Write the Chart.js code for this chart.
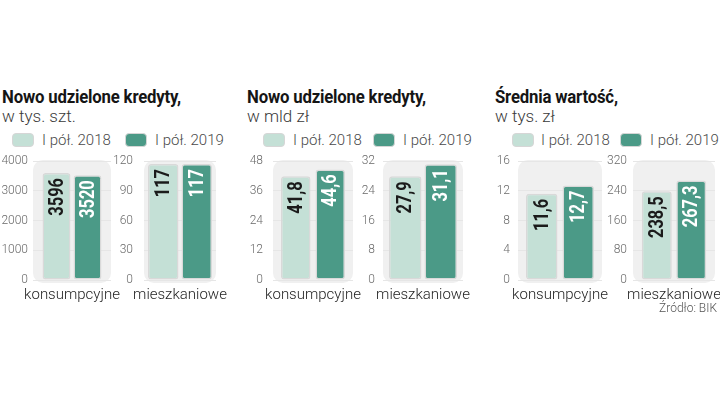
<!DOCTYPE html>
<html>
<head>
<meta charset="utf-8">
<script src="https://cdn.jsdelivr.net/npm/chart.js@4.4.1/dist/chart.umd.min.js"></script>
<style>
  body { margin: 0; background: #fff; }
  #wrap { position: relative; width: 720px; height: 406px; overflow: hidden; font-family: Roboto, "Open Sans", sans-serif; }
  .title { position: absolute; top: 86px; font-weight: 700; font-size: 18px; color: #151515; white-space: nowrap; transform: scaleX(0.93); transform-origin: left top; letter-spacing: -0.2px; }
  .sub { position: absolute; top: 106px; font-weight: 300; font-size: 17px; color: #3a3a3a; white-space: nowrap; }
  .leg { position: absolute; top: 131px; font-weight: 300; font-size: 15px; color: #4a4a4a; white-space: nowrap; line-height: 18px; }
  .box { position: absolute; top: 133px; width: 20px; height: 12px; border: 1.5px solid #d6d6d6; border-radius: 4px; }
  .light { background: #c4e0d6; }
  .dark { background: #4b9a87; }
  canvas { position: absolute; top: 150px; }
  #src { position: absolute; right: 3px; top: 301px; font-weight: 300; font-size: 12px; color: #555; }
</style>
</head>
<body>
<div id="wrap">
  <div class="title" style="left:2px">Nowo udzielone kredyty,</div>
  <div class="sub" style="left:2px">w tys. szt.</div>
  <div class="box light" style="left:12px"></div><div class="leg" style="left:42px">I pół. 2018</div>
  <div class="box dark" style="left:125px"></div><div class="leg" style="left:155px">I pół. 2019</div>

  <div class="title" style="left:247px">Nowo udzielone kredyty,</div>
  <div class="sub" style="left:247px">w mld zł</div>
  <div class="box light" style="left:263px"></div><div class="leg" style="left:293px">I pół. 2018</div>
  <div class="box dark" style="left:373px"></div><div class="leg" style="left:403px">I pół. 2019</div>

  <div class="title" style="left:495px">Średnia wartość,</div>
  <div class="sub" style="left:495px">w tys. zł</div>
  <div class="box light" style="left:512px"></div><div class="leg" style="left:541px">I pół. 2018</div>
  <div class="box dark" style="left:620px"></div><div class="leg" style="left:650px">I pół. 2019</div>

  <canvas id="c0"></canvas><canvas id="c1"></canvas><canvas id="c2"></canvas>
  <canvas id="c3"></canvas><canvas id="c4"></canvas><canvas id="c5"></canvas>
  <div id="src">Źródło: BIK</div>
</div>
<script>
const categories = ["konsumpcyjne", "mieszkaniowe"];
const seriesLabels = ["I pół. 2018", "I pół. 2019"];

// liczba kredytów, tys. szt.
const countH1_2018 = [3596, 117];
const countH1_2019 = [3520, 117];
// wartość kredytów, mld zł
const valueH1_2018 = [41.8, 27.9];
const valueH1_2019 = [44.6, 31.1];
// średnia wartość, tys. zł
const avgH1_2018 = [11.6, 238.5];
const avgH1_2019 = [12.7, 267.3];

const countMax = [4000, 120];
const valueMax = [48, 32];
const avgMax = [16, 320];

const lightColor = "#c4e0d6";
const darkColor = "#4b9a87";

// one small chart per category, left to right
const parts = [
  { cat: 0, a: countH1_2018, b: countH1_2019, max: countMax },
  { cat: 1, a: countH1_2018, b: countH1_2019, max: countMax },
  { cat: 0, a: valueH1_2018, b: valueH1_2019, max: valueMax },
  { cat: 1, a: valueH1_2018, b: valueH1_2019, max: valueMax },
  { cat: 0, a: avgH1_2018, b: avgH1_2019, max: avgMax },
  { cat: 1, a: avgH1_2018, b: avgH1_2019, max: avgMax }
];

// pixel placement of each small chart
const boxes = [
  { labelRight: 28, left: 33, right: 111, pitch: 31, bar: 28 },
  { labelRight: 133, left: 144, right: 216, pitch: 33.5, bar: 30.5 },
  { labelRight: 263, left: 273, right: 353, pitch: 34.5, bar: 29.5 },
  { labelRight: 375, left: 383, right: 463, pitch: 35.5, bar: 32.5 },
  { labelRight: 510, left: 518, right: 602, pitch: 36.5, bar: 31.5 },
  { labelRight: 627, left: 633, right: 715, pitch: 34.5, bar: 30 }
];

const fmt = v => String(v).replace(".", ",");

const panelBg = {
  id: "panelBg",
  beforeDraw(chart) {
    const a = chart.chartArea;
    const ctx = chart.ctx;
    ctx.save();
    ctx.fillStyle = "#f0f0f0";
    ctx.beginPath();
    ctx.roundRect(a.left, a.top - 1, a.right - a.left, a.bottom - a.top + 4, 10);
    ctx.fill();
    ctx.restore();
  }
};

const barText = {
  id: "barText",
  afterDatasetsDraw(chart) {
    const ctx = chart.ctx;
    chart.data.datasets.forEach((ds, i) => {
      chart.getDatasetMeta(i).data.forEach((bar, j) => {
        ctx.save();
        ctx.translate(bar.x, bar.y + 5);
        ctx.rotate(-Math.PI / 2);
        ctx.scale(0.82, 1);
        ctx.font = "bold 20px Roboto, sans-serif";
        ctx.fillStyle = i === 0 ? "#1b1b1b" : "#ffffff";
        ctx.textAlign = "right";
        ctx.textBaseline = "middle";
        ctx.fillText(fmt(ds.data[j]), 0, 1);
        ctx.restore();
      });
    });
  }
};

parts.forEach((p, n) => {
  const b = boxes[n];
  const canvasLeft = Math.max(0, b.labelRight - 32);
  const cv = document.getElementById("c" + n);
  cv.style.left = canvasLeft + "px";
  cv.width = b.right + 16 - canvasLeft;
  cv.height = 160;
  const axisW = b.left - canvasLeft;
  const areaW = b.right - b.left;
  const max = p.max[p.cat];

  new Chart(cv, {
    type: "bar",
    data: {
      labels: [categories[p.cat]],
      datasets: [
        { label: seriesLabels[0], data: [p.a[p.cat]], backgroundColor: lightColor },
        { label: seriesLabels[1], data: [p.b[p.cat]], backgroundColor: darkColor }
      ]
    },
    options: {
      responsive: false,
      animation: false,
      layout: { padding: { top: 11, right: 16, left: 0, bottom: 0 } },
      categoryPercentage: 2 * b.pitch / areaW,
      barPercentage: b.bar / b.pitch,
      elements: { bar: { borderColor: "#d9d9d9", borderWidth: 1.5, borderRadius: 3, borderSkipped: false } },
      plugins: { legend: { display: false }, tooltip: { enabled: false } },
      scales: {
        x: {
          grid: { display: false },
          border: { display: false },
          ticks: { padding: -2, color: "#1e1e1e", font: { family: "Roboto", weight: 300, size: 15 } },
          afterFit(s) { s.height = 30; s.paddingLeft = 0; s.paddingRight = 0; }
        },
        y: {
          min: 0,
          max: max,
          border: { display: false },
          grid: { color: "#e6e6e6", drawTicks: false },
          ticks: {
            stepSize: max / 4,
            padding: b.left - b.labelRight,
            color: "#6a6a6a",
            font: { family: "Roboto", weight: 300, size: 12 },
            callback: v => String(v)
          },
          afterFit(s) { s.width = axisW; s.paddingTop = 0; s.paddingBottom = 0; }
        }
      }
    },
    plugins: [panelBg, barText]
  });
});
</script>
</body>
</html>
